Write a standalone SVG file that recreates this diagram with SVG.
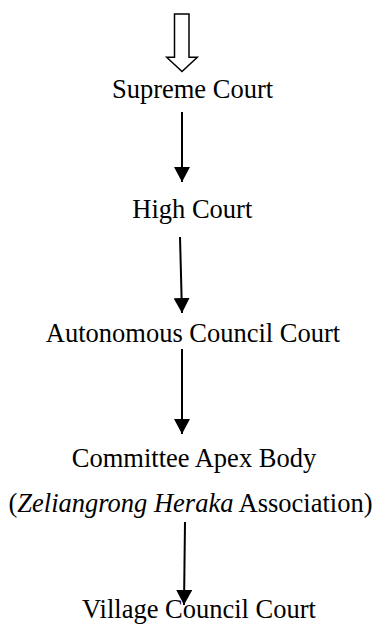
<svg xmlns="http://www.w3.org/2000/svg" width="378" height="626" viewBox="0 0 378 626">
<style>
.t{font-family:"Liberation Serif","Times New Roman",serif;font-size:26.5px;fill:#000;text-anchor:middle}
.c{stroke:#000;stroke-width:2;fill:none;marker-end:url(#ah)}
.i{font-style:italic}
</style>
<defs>
<marker id="ah" markerUnits="userSpaceOnUse" markerWidth="16" markerHeight="16" refX="15" refY="8" orient="auto">
<path d="M0,0 L15,8 L0,16 z" fill="#000"/>
</marker>
</defs>
<rect width="378" height="626" fill="#fff"/>
<g id="entry">
<polygon points="174.5,14 189,14 189,57.3 197.3,57.3 182,71.5 166.7,57.3 174.5,57.3" fill="#fff" stroke="#000" stroke-width="1.5"/>
</g>
<g id="connectors">
<line class="c" x1="182" y1="112" x2="182" y2="182"/>
<line class="c" x1="180" y1="237" x2="182" y2="313"/>
<line class="c" x1="182" y1="349" x2="182" y2="434"/>
<line class="c" x1="185" y1="522" x2="184" y2="605"/>
</g>
<g id="supreme"><text class="t" x="192.5" y="98">Supreme Court</text></g>
<g id="high"><text class="t" x="192.3" y="218.3">High Court</text></g>
<g id="autonomous"><text class="t" x="193" y="341.7">Autonomous Council Court</text></g>
<g id="committee">
<text class="t" x="194" y="466.7">Committee Apex Body</text>
<text class="t" x="190.5" y="511.7">(<tspan class="i">Zeliangrong Heraka</tspan> Association)</text>
</g>
<g id="village"><text class="t" x="199" y="618">Village Council Court</text></g>
</svg>
